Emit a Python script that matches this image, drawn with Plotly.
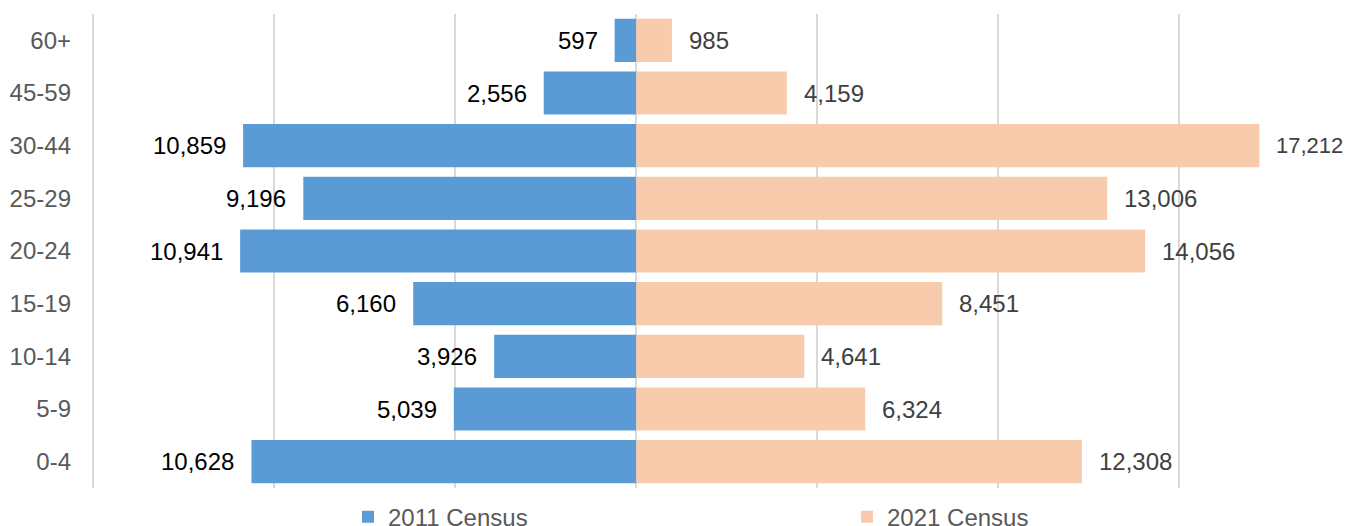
import plotly.graph_objects as go

age_groups = ["0-4", "5-9", "10-14", "15-19", "20-24", "25-29", "30-44", "45-59", "60+"]
census_2011 = [10628, 5039, 3926, 6160, 10941, 9196, 10859, 2556, 597]
census_2021 = [12308, 6324, 4641, 8451, 14056, 13006, 17212, 4159, 985]
series_names = ["2011 Census", "2021 Census"]
grid_ticks = [-15000, -10000, -5000, 0, 5000, 10000, 15000]

BLUE = "#5B9BD5"
PEACH = "#F8CBAD"
FONT = "Liberation Sans, Arial, sans-serif"
FS = 24

# page body has an 8px default margin, so the figure is sized to fit the window
W, H = 1343, 518
L, T, B = 83, 6, 38
X_RANGE = [-15060, 19741]
PX_PER_UNIT = (W - L) / (X_RANGE[1] - X_RANGE[0])

fig = go.Figure()
fig.add_trace(go.Bar(
    y=age_groups, x=[-v for v in census_2011], orientation="h",
    name=series_names[0], marker=dict(color=BLUE, line=dict(width=0)),
))
fig.add_trace(go.Bar(
    y=age_groups, x=census_2021, orientation="h",
    name=series_names[1], marker=dict(color=PEACH, line=dict(width=0)),
))

annotations = []
for cat, v in zip(age_groups, census_2011):
    annotations.append(dict(
        x=-v, y=cat, xref="x", yref="y", text=f"{v:,}", showarrow=False,
        xanchor="right", yanchor="middle", xshift=-15,
        font=dict(family=FONT, size=FS, color="#000000"),
    ))
for cat, v in zip(age_groups, census_2021):
    label = f"{v:,}"
    # squeeze a label that would otherwise run past the right edge
    end_px = L + (v - X_RANGE[0]) * PX_PER_UNIT + 15 + 0.53 * FS * len(label)
    size = FS if end_px <= W - 12 else 22
    annotations.append(dict(
        x=v, y=cat, xref="x", yref="y", text=label, showarrow=False,
        xanchor="left", yanchor="middle", xshift=15,
        font=dict(family=FONT, size=size, color="#404040"),
    ))

fig.update_layout(
    width=W, height=H,
    margin=dict(l=L, r=0, t=T, b=B, pad=0, autoexpand=False),
    paper_bgcolor="white", plot_bgcolor="white",
    barmode="relative", bargap=0.18,
    showlegend=True,
    legend=dict(
        orientation="h", x=(340 - L) / (W - L), xanchor="left",
        y=-0.014, yanchor="top",
        entrywidth=454, entrywidthmode="pixels",
        font=dict(family=FONT, size=FS, color="#595959"),
        bgcolor="rgba(0,0,0,0)",
    ),
    annotations=annotations,
    xaxis=dict(
        range=X_RANGE, tickvals=grid_ticks, showticklabels=False,
        showgrid=True, gridcolor="#D9D9D9", gridwidth=2,
        zeroline=True, zerolinecolor="#D9D9D9", zerolinewidth=2,
        showline=False, ticks="", fixedrange=True,
    ),
    yaxis=dict(
        type="category", categoryorder="array", categoryarray=age_groups,
        showgrid=False, zeroline=False, showline=False, ticks="",
        ticklabelstandoff=19, automargin=False,
        tickfont=dict(family=FONT, size=FS, color="#595959"),
    ),
    font=dict(family=FONT),
)

fig.write_html("out.html")
